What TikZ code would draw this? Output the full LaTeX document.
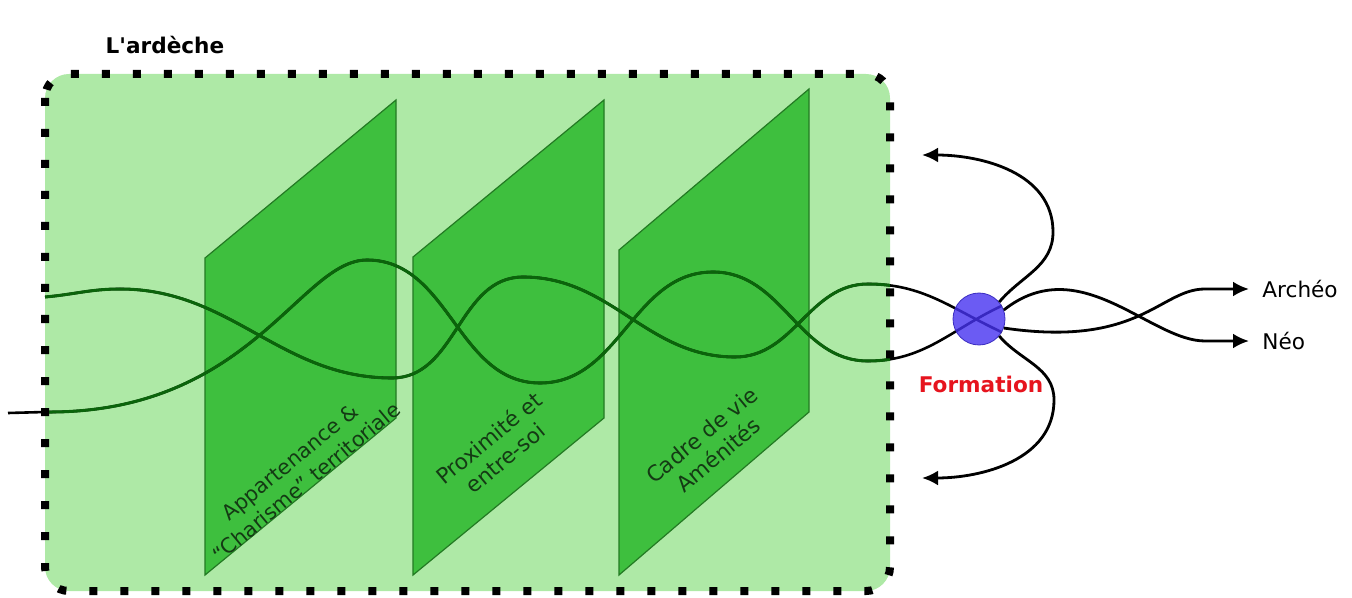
\documentclass[tikz,border=0pt]{standalone}
\usepackage{fontspec}
\setmainfont{DejaVu Sans}
\usetikzlibrary{arrows.meta}
\definecolor{terrain}{HTML}{AEE9A6}
\definecolor{panneauvert}{HTML}{3EBF3E}
\definecolor{panneaubord}{HTML}{237A23}
\definecolor{brinvert}{HTML}{0B640B}
\definecolor{bulle}{HTML}{4632F0}
\definecolor{bullebord}{HTML}{3A2CC0}
\definecolor{rouge}{HTML}{E6141E}
\definecolor{texte}{HTML}{143A14}
\tikzset{
  zone/.style={draw=black, line width=4pt, dash pattern=on 4pt off 11.5pt, rounded corners=12pt},
  panneau/.style={fill=panneauvert, draw=panneaubord, line width=0.6pt},
  legende/.style={text=texte, align=center, rotate=39.6},
  brin/.style={line width=1.3pt},
  fleche/.style={line width=1.4pt, -{Latex[length=8pt,width=7.5pt]}},
}

\begin{document}
\begin{tikzpicture}[x=0.5pt,y=-0.5pt,font=\fontsize{10.8}{13}\selectfont]
\useasboundingbox (0,0) rectangle (1352,598);
\fill[terrain, rounded corners=12pt] (45,74) rectangle (890,591);
\node[font=\fontsize{10.8}{13}\selectfont\bfseries] (titre) at (165,45) {L\textquotesingle ardèche};

% les trois panneaux
\draw[panneau] (205,258) -- (396,100) -- (396,418) -- (205,575) -- cycle;
\draw[panneau] (413,257) -- (604,100) -- (604,418) -- (413,575) -- cycle;
\draw[panneau] (619,250) -- (809,89) -- (809,412) -- (619,575) -- cycle;
\node[legende, font=\fontsize{10.4}{13}\selectfont] (appartenance) at (298,472) {Appartenance \&\\``Charisme'' territoriale};
\node[legende] (proximite) at (497,448) {Proximité et\\entre-soi};
\node[legende] (cadre) at (710,445) {Cadre de vie\\Aménités};

% les deux brins
\path (979,319) node[circle, minimum size=26pt] (formation) {};
\path[save path=\brinun] (45,297) to[out=5,in=180] (120,289) to[out=0,in=180] (392,378)
  to[out=0,in=180] (523,277) to[out=0,in=180] (735,357) to[out=0,in=180] (868,284)
  to[out=0,in=155] (formation.330);
\path[save path=\brindeux] (8,413) -- (45,412) .. controls (250,414) and (300,260) .. (367,260)
  to[out=0,in=180] (540,383) to[out=0,in=180] (713,272) to[out=0,in=180] (868,361)
  to[out=0,in=205] (formation.30);
\draw[brin, use path=\brinun];
\draw[brin, use path=\brindeux];
\begin{scope}
  \clip[rounded corners=12pt] (45,74) rectangle (890,591);
  \draw[brin, line width=1.5pt, brinvert, use path=\brinun];
  \draw[brin, line width=1.5pt, brinvert, use path=\brindeux];
\end{scope}
\draw[fill=bulle, fill opacity=0.8, draw=bullebord] (formation) circle (13pt);
\draw[zone] (45,74) rectangle (890,591);

% sorties
\coordinate (haut) at (922,155);
\coordinate (bas) at (922,478);
\node[anchor=west, inner xsep=6.5pt] (archeo) at (1249,289) {Archéo};
\node[anchor=west, inner xsep=6.5pt] (neo) at (1249,341) {Néo};
\node[font=\fontsize{10.8}{13}\selectfont\bfseries, text=rouge] (etiquette) at (981,384) {Formation};
\draw[fleche] (formation.40) to[out=50,in=-90] (1053,232) to[out=90,in=0] (haut);
\draw[fleche] (formation.-40) to[out=-50,in=90] (1054,400) to[out=-90,in=0] (bas);
\draw[fleche] (formation.-20) .. controls (1140,348) and (1160,289) .. (1205,289) -- (archeo.west);
\draw[fleche] (formation.20) .. controls (1080,250) and (1150,341) .. (1205,341) -- (neo.west);
\end{tikzpicture}
\end{document}
